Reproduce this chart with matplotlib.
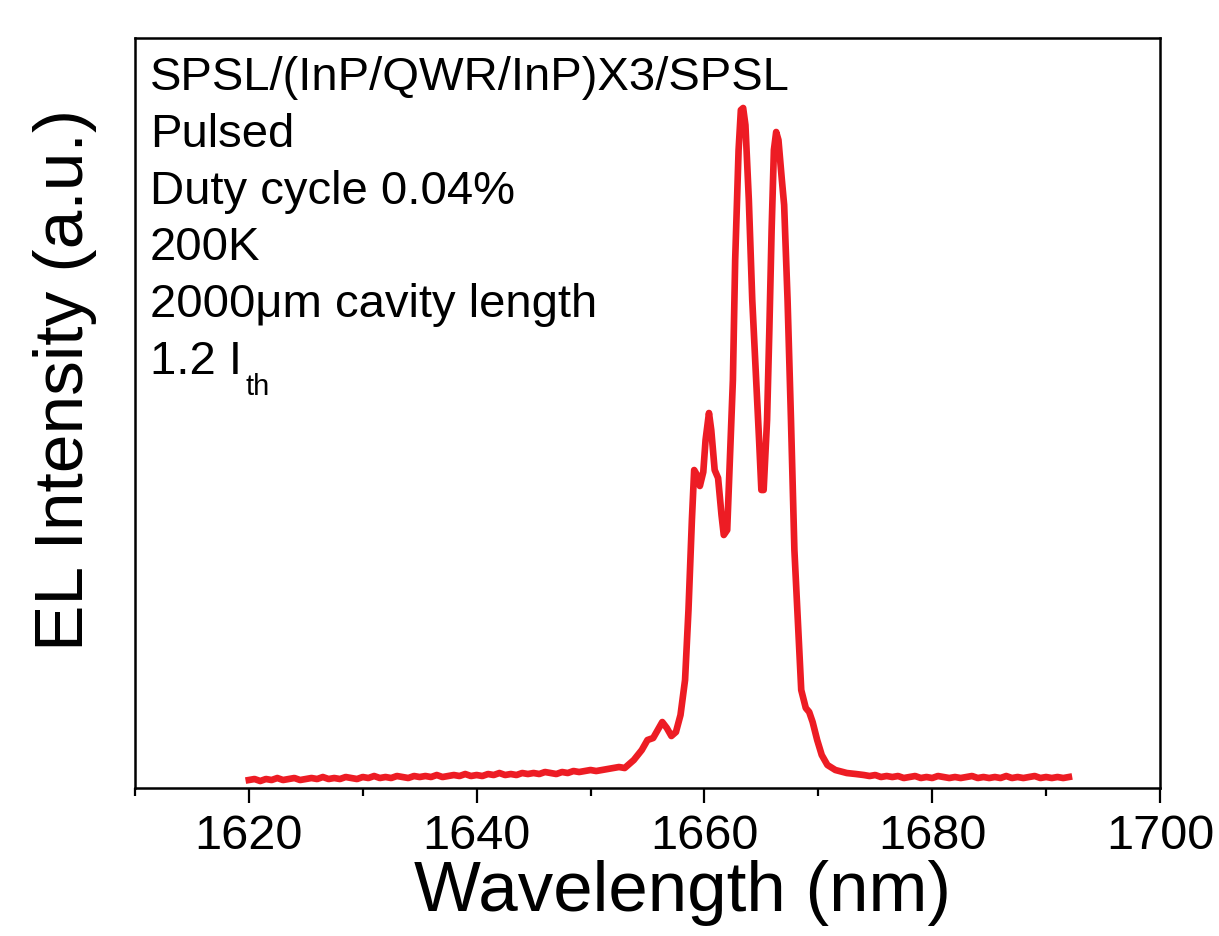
import numpy as np
import matplotlib.pyplot as plt

plt.rcParams['font.family'] = ['Liberation Sans', 'DejaVu Sans']

# baseline left of the emission band (0.5 nm steps)
wl_left = np.arange(1620, 1652.01, 0.5)
int_left = [8, 9, 7, 9, 8, 10, 8, 9, 10, 8,
            9, 10, 9, 11, 9, 10, 9, 11, 10, 9,
            11, 10, 12, 10, 11, 10, 12, 11, 10, 12,
            11, 12, 11, 13, 11, 12, 13, 12, 14, 12,
            13, 12, 14, 13, 15, 13, 14, 13, 15, 14,
            15, 14, 16, 15, 14, 16, 15, 17, 16, 17,
            18, 17, 18, 19, 20]

# emission band
wl_peak = [1652.5, 1653.0, 1653.8, 1654.5, 1655.0, 1655.5, 1655.9, 1656.3, 1656.7, 1657.1,
           1657.5, 1657.9, 1658.3, 1658.6, 1658.9, 1659.1, 1659.4, 1659.6, 1659.9, 1660.1,
           1660.4, 1660.6, 1660.9, 1661.2, 1661.5, 1661.7, 1662.0, 1662.2, 1662.5, 1662.7,
           1663.0, 1663.2, 1663.4, 1663.6, 1663.9, 1664.2, 1664.5, 1664.8, 1665.0, 1665.2,
           1665.5, 1665.7, 1665.9, 1666.1, 1666.3, 1666.5, 1666.8, 1667.0, 1667.3, 1667.6,
           1667.9, 1668.2, 1668.5, 1668.9, 1669.2, 1669.5, 1669.9, 1670.3, 1670.8, 1671.5,
           1672.5, 1673.3]
int_peak = [21, 20, 28, 38, 48, 50, 58, 66, 60, 52,
            56, 73, 108, 178, 268, 318, 312, 302, 316, 348,
            375, 358, 318, 310, 273, 253, 258, 318, 408, 528,
            638, 678, 680, 663, 588, 488, 418, 348, 298, 298,
            368, 458, 558, 638, 656, 648, 608, 583, 488, 368,
            238, 168, 98, 80, 76, 66, 48, 33, 23, 18,
            15, 14]

# baseline right of the emission band
wl_right = np.arange(1674, 1692.01, 0.5)
int_right = [13, 12, 13, 11, 12, 11, 12, 10, 11, 12,
             10, 11, 10, 12, 11, 10, 11, 10, 11, 12,
             10, 11, 10, 11, 10, 12, 10, 11, 10, 11,
             12, 10, 11, 10, 11, 10, 11]

wavelength = np.concatenate([wl_left, wl_peak, wl_right])
intensity = np.concatenate([int_left, int_peak, int_right])

info_lines = ['SPSL/(InP/QWR/InP)X3/SPSL', 'Pulsed', 'Duty cycle 0.04%',
              '200K', '2000\u03bcm cavity length', '1.2 I']

fig = plt.figure(figsize=(12.19, 9.36), dpi=100)
ax = fig.add_axes([0.1107, 0.1581, 0.8409, 0.8013])

ax.plot(wavelength, intensity, color='#ED1C24', lw=4.8, solid_joinstyle='round')

ax.set_xlim(1610, 1700)
ax.set_ylim(0, 750)
ax.set_xticks([1620, 1640, 1660, 1680, 1700])
ax.set_xticks([1610, 1630, 1650, 1670, 1690], minor=True)
ax.set_yticks([])
ax.tick_params(axis='x', which='major', direction='out', length=11, width=1.6,
               labelsize=35, pad=8)
ax.tick_params(axis='x', which='minor', direction='out', length=6, width=1.6)
for s in ax.spines.values():
    s.set_linewidth(1.8)

ax.set_xlabel('Wavelength (nm)', fontsize=51, va='center')
ax.xaxis.set_label_coords(0.534, -0.14)
ax.set_ylabel('EL Intensity (a.u.)', fontsize=50, va='center')
ax.yaxis.set_label_coords(-0.068, 0.544)

y0 = 0.9307
for i, line in enumerate(info_lines):
    ax.text(0.0146, y0 - i * 0.0757, line, transform=ax.transAxes,
            fontsize=34, va='baseline', ha='left')
# subscript of I_th
ax.text(0.1075, 0.524, 'th', transform=ax.transAxes,
        fontsize=21, va='baseline', ha='left')

fig.savefig('out.png', dpi=100)
